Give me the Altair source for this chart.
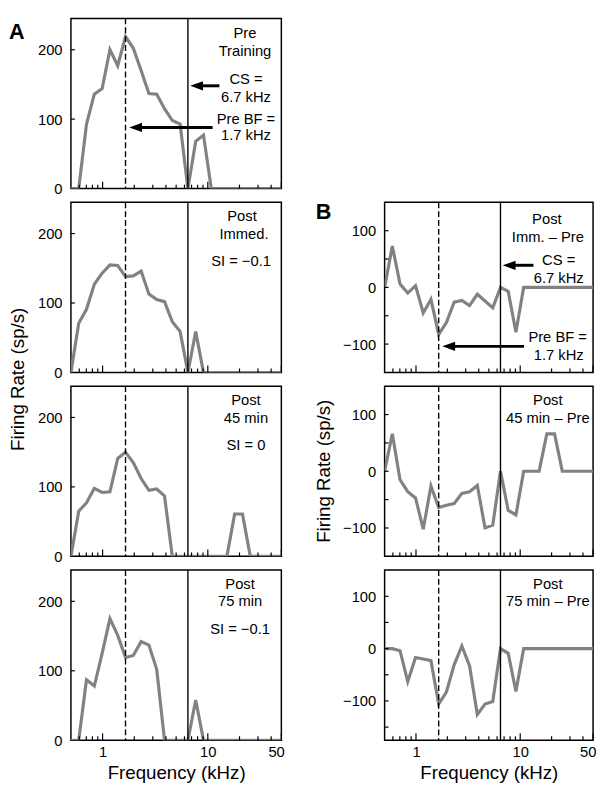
import altair as alt
import pandas as pd

# ---------------- data ----------------
freqs = [0.5, 0.593, 0.703, 0.834, 0.99, 1.174, 1.392, 1.651, 1.958, 2.323,
         2.755, 3.268, 3.876, 4.597, 5.452, 6.467, 7.67, 9.097, 10.79, 12.8,
         15.18, 18.0, 21.35, 25.33, 30.04, 35.63, 42.26, 50.0]

pre_training = [0, 0, 93, 136, 144, 200, 177, 219, 202, 170, 137, 136, 115, 98,
                93, 0, 68, 77, 0, 0, 0, 0, 0, 0, 0, 0, 0, 0]
post_immed = [0, 71, 91, 127, 143, 155, 154, 138, 139, 146, 113, 105, 102, 73,
              59, 0, 59, 0, 0, 0, 0, 0, 0, 0, 0, 0, 0, 0]
post_45 = [0, 65, 77, 98, 92, 93, 141, 150, 135, 112, 95, 97, 87, 0,
           0, 0, 0, 0, 0, 0, 0, 61, 61, 0, 0, 0, 0, 0]
post_75 = [0, 0, 87, 78, 125, 175, 151, 119, 122, 142, 137, 102, 0, 0,
           0, 0, 58, 0, 0, 0, 0, 0, 0, 0, 0, 0, 0, 0]

diff_immed = [0, 73, 6, -10, 3, -45, -21, -83, -62, -26, -23, -32, -12, -24,
              -36, 0, -7, -79, 0, 0, 0, 0, 0, 0, 0, 0, 0, 0]
diff_45 = [0, 66, -15, -36, -47, -102, -26, -64, -60, -57, -39, -36, -25, -100,
           -95, 0, -69, -77, 0, 0, 0, 66, 66, 0, 0, 0, 0, 0]
diff_75 = [0, 0, -4, -63, -17, -20, -23, -106, -83, -31, 5, -33, -126, -106,
           -101, 0, -9, -82, 0, 0, 0, 0, 0, 0, 0, 0, 0, 0]

BF = freqs[7]    # pre-training best frequency (1.7 kHz)
CS = freqs[15]   # conditioned stimulus (6.7 kHz)

x_labels = [1, 10, 50]
minor_ticks = [0.6, 0.7, 0.8, 0.9, 2, 3, 4, 5, 6, 7, 8, 9, 20, 30, 40]
major_ticks = [1, 10, 50]

a_ylabels = [0, 100, 200]
a_yticks = [100, 200]
b_ylabels = [-100, 0, 100]
b_yticks = [-100, -50, 0, 50, 100]
b3_yticks = [-150, -100, -50, 0, 50, 100]

# arrows: (tip kHz, tail kHz, y value)
a1_cs_arrow = (6.8, 12.9, 148)
a1_bf_arrow = (1.79, 11.1, 88)
b1_cs_arrow = (6.8, 13.4, 39)
b1_bf_arrow = (1.79, 10.9, -104)

# ---------------- styling ----------------
FONT = "Liberation Sans"
GRAY = "#828282"
XDOM = [0.5, 50]
WA, WB, H = 214, 212, 173
ONE = pd.DataFrame({"d": [0]})


def text_layer(label, px, py, size=15, weight="normal", align="center",
               baseline="middle", angle=0):
    return alt.Chart(ONE).mark_text(
        text=label, fontSize=size, fontWeight=weight, align=align,
        baseline=baseline, angle=angle, color="black", font=FONT
    ).encode(x=alt.value(px), y=alt.value(py))


def panel(vals, ydom, ylabels, yticks, texts, width, arrows=(), extra=(),
          bottom=False):
    xsc = alt.Scale(type="log", domain=XDOM, nice=False)
    ysc = alt.Scale(domain=ydom, nice=False, zero=False)
    if bottom:
        xaxis = alt.Axis(values=x_labels, format="d", ticks=False, domain=False,
                         grid=False, labelFontSize=15, labelPadding=5,
                         labelFlush=True, labelFlushOffset=3, labelColor="black",
                         title="Frequency (kHz)", titleFontSize=19,
                         titleFontWeight="normal", titlePadding=4,
                         titleColor="black")
    else:
        xaxis = None
    yaxis = alt.Axis(values=ylabels, ticks=False, domain=False, grid=False,
                     labelFontSize=15, labelPadding=9, labelColor="black",
                     title=None)

    def X(field):
        return alt.X(field, type="quantitative", scale=xsc, axis=xaxis)

    def Y(field):
        return alt.Y(field, type="quantitative", scale=ysc, axis=yaxis)

    df = pd.DataFrame({"freq": freqs, "val": vals})
    layers = []
    layers.append(
        alt.Chart(df).mark_line(color=GRAY, strokeWidth=3.2, clip=True).encode(
            x=X("freq"), y=Y("val")))
    layers.append(
        alt.Chart(pd.DataFrame({"f": [BF]})).mark_rule(
            color="black", strokeWidth=1.4, strokeDash=[6, 3]).encode(x=X("f")))
    layers.append(
        alt.Chart(pd.DataFrame({"f": [CS]})).mark_rule(
            color="black", strokeWidth=1.4).encode(x=X("f")))
    layers.append(
        alt.Chart(pd.DataFrame({"f": minor_ticks})).mark_rule(
            color="black", strokeWidth=1.2).encode(
            x=X("f"), y=alt.value(H), y2=alt.value(H - 4)))
    layers.append(
        alt.Chart(pd.DataFrame({"f": major_ticks})).mark_rule(
            color="black", strokeWidth=1.2).encode(
            x=X("f"), y=alt.value(H), y2=alt.value(H - 7)))
    layers.append(
        alt.Chart(pd.DataFrame({"v": yticks})).mark_rule(
            color="black", strokeWidth=1.2).encode(
            y=Y("v"), x=alt.value(0), x2=alt.value(4)))
    for tip, tail, yv in arrows:
        adf = pd.DataFrame({"tip": [tip], "tail": [tail], "y": [yv]})
        layers.append(
            alt.Chart(adf).mark_rule(color="black", strokeWidth=3, xOffset=8).encode(
                x=X("tip"), x2="tail:Q", y=Y("y")))
        layers.append(
            alt.Chart(adf).mark_point(
                shape="M -1 0 L 1 -0.72 L 1 0.72 Z", size=170, filled=True,
                color="black", opacity=1, strokeWidth=0, xOffset=6.5).encode(
                x=X("tip"), y=Y("y")))
    for label, px, py in texts:
        layers.append(text_layer(label, px, py))
    layers.extend(extra)
    return alt.layer(*layers).properties(width=width, height=H)


A1 = panel(pre_training, [0, 245], a_ylabels, a_yticks,
           [("Pre", 177, 15), ("Training", 177, 33), ("CS =", 178, 62),
            ("6.7 kHz", 178, 80), ("Pre BF =", 178, 102), ("1.7 kHz", 178, 119)],
           WA, arrows=[a1_cs_arrow, a1_bf_arrow],
           extra=[text_layer("A", -63, 4, size=22, weight="bold",
                             align="left", baseline="top")])
A2 = panel(post_immed, [0, 245], a_ylabels, a_yticks,
           [("Post", 174, 14), ("Immed.", 176, 32), ("SI = \u22120.1", 173, 60)],
           WA,
           extra=[text_layer("Firing Rate (sp/s)", -54, H + 7, size=19,
                             angle=270)])
A3 = panel(post_45, [0, 245], a_ylabels, a_yticks,
           [("Post", 178, 14), ("45 min", 178, 32), ("SI = 0", 178, 60)], WA)
A4 = panel(post_75, [0, 245], a_ylabels, a_yticks,
           [("Post", 172, 14), ("75 min", 172, 32), ("SI = \u22120.1", 172, 60)],
           WA, bottom=True)

B1 = panel(diff_immed, [-150, 150], b_ylabels, b_yticks,
           [("Post", 165, 17), ("Imm. \u2013 Pre", 166, 35), ("CS =", 177, 59),
            ("6.7 kHz", 177, 77), ("Pre BF =", 176, 137), ("1.7 kHz", 177, 155)],
           WB, arrows=[b1_cs_arrow, b1_bf_arrow],
           extra=[text_layer("B", -70, 0, size=22, weight="bold",
                             align="left", baseline="top")])
B2 = panel(diff_45, [-150, 150], b_ylabels, b_yticks,
           [("Post", 166, 14), ("45 min \u2013 Pre", 166, 32)], WB,
           extra=[text_layer("Firing Rate (sp/s)", -62, H / 2, size=19,
                             angle=270)])
B3 = panel(diff_75, [-175, 150], b_ylabels, b3_yticks,
           [("Post", 166, 14), ("75 min \u2013 Pre", 166, 32)], WB, bottom=True)

spacer = alt.Chart(ONE).mark_point(opacity=0).encode(
    x=alt.value(0), y=alt.value(0)
).properties(width=WB, height=H,
             view=alt.ViewBackground(stroke="transparent"))

chart = alt.concat(A1, spacer, A2, B1, A3, B2, A4, B3, columns=2,
                   spacing={"row": 14, "column": 105}, bounds="flush").properties(
    padding=0
).configure(font=FONT).configure_view(stroke="black", strokeWidth=1.5
).configure_axis(labelFont=FONT, titleFont=FONT)

chart.save("out.html", embed_options={"renderer": "svg", "actions": False})
